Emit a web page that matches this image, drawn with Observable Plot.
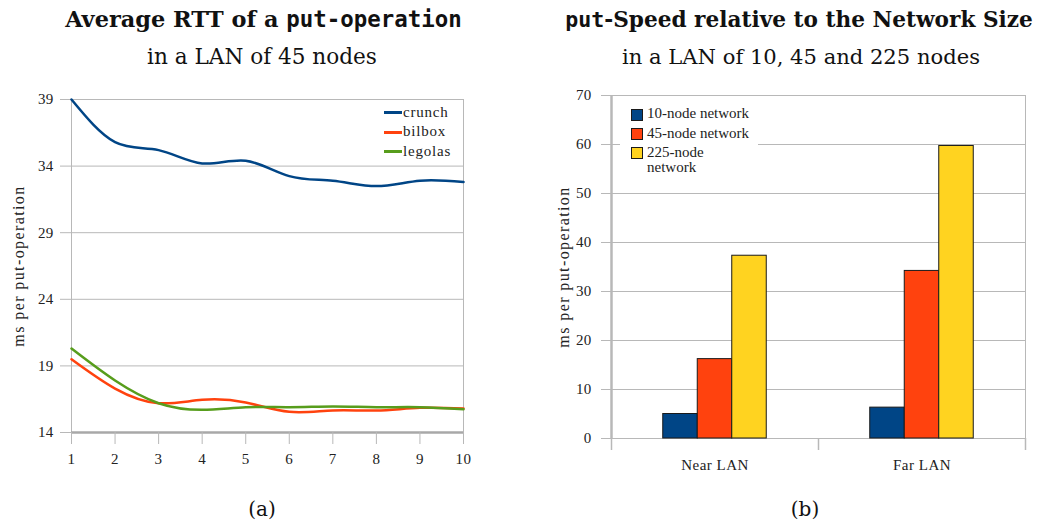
<!DOCTYPE html>
<html><head><meta charset="utf-8">
<script src="https://cdn.jsdelivr.net/npm/d3@7"></script>
<script src="https://cdn.jsdelivr.net/npm/@observablehq/plot@0.6"></script>
<style>
body{margin:0;background:#fff;}
#root{position:relative;width:1049px;height:524px;overflow:hidden;background:#fff;}
.abs{position:absolute;white-space:nowrap;line-height:1;}
.ttl{font-family:"DejaVu Serif",serif;font-weight:bold;color:#111;}
.mono{font-family:"DejaVu Sans Mono","Liberation Mono",monospace;font-weight:bold;}
.sub{font-family:"DejaVu Serif",serif;color:#111;}
.leg{position:absolute;font-family:"Liberation Serif",serif;font-size:15px;line-height:15px;color:#222;}
g[aria-label="y-axis label"] text{font-size:16px;letter-spacing:1.4px;}
g[aria-label="y-axis tick label"] text{font-size:15px;letter-spacing:0.3px;}
g[aria-label="x-axis tick label"] text{font-size:15px;letter-spacing:0.5px;}
</style></head><body><div id="root"></div>
<script>
// ---- panel (a): average RTT of a put-operation, LAN of 45 nodes ----
const nodes = [1, 2, 3, 4, 5, 6, 7, 8, 9, 10];
const crunch = [39.0, 35.8, 35.2, 34.2, 34.4, 33.25, 32.9, 32.5, 32.9, 32.8];
const bilbox = [19.5, 17.3, 16.2, 16.45, 16.25, 15.55, 15.65, 15.65, 15.85, 15.8];
const legolas = [20.3, 17.9, 16.2, 15.7, 15.9, 15.9, 15.95, 15.9, 15.9, 15.75];
const hosts = ["crunch", "bilbox", "legolas"];
const hostColors = ["#004586", "#ff420e", "#579d1c"];
const rttTicks = [14, 19, 24, 29, 34, 39];

// ---- panel (b): put-speed relative to network size ----
const lans = ["Near LAN", "Far LAN"];
const networks = ["10-node network", "45-node network", "225-node network"];
const net10 = [5.0, 6.3];
const net45 = [16.2, 34.2];
const net225 = [37.3, 59.7];
const netColors = ["#004586", "#ff420e", "#ffd320"];
const speedTicks = [0, 10, 20, 30, 40, 50, 60, 70];

const root = document.getElementById("root");
const grid = "#b8b8b8";
const baseStyle = {fontFamily: "Liberation Serif, serif", fontSize: "14px", color: "#222", background: "transparent", overflow: "visible"};

const rtt = [];
[crunch, bilbox, legolas].forEach((arr, i) => arr.forEach((v, j) => rtt.push({host: hosts[i], n: nodes[j], ms: v})));

const left = Plot.plot({
  width: 480, height: 400, marginLeft: 71, marginRight: 17, marginTop: 14, marginBottom: 53,
  style: baseStyle,
  x: {domain: [1, 10]},
  y: {domain: [14, 39]},
  color: {domain: hosts, range: hostColors},
  marks: [
    Plot.gridY(rttTicks, {stroke: grid, strokeOpacity: 1}),
    Plot.frame({stroke: grid}),
    Plot.ruleY([14], {stroke: "#a8a8a8", strokeWidth: 2.5}),
    Plot.axisY(rttTicks, {tickSize: 11, tickPadding: 7, stroke: grid, label: "ms per put-operation", labelAnchor: "center", labelArrow: "none", labelOffset: 59}),
    Plot.axisX(nodes, {tickSize: 12, tickPadding: 9, stroke: grid, label: null}),
    Plot.line(rtt, {x: "n", y: "ms", stroke: "host", z: "host", strokeWidth: 2.5, curve: "natural"})
  ]
});
left.style.position = "absolute"; left.style.left = "0px"; left.style.top = "85px";
root.appendChild(left);

const speed = [];
lans.forEach((lan, i) => [net10, net45, net225].forEach((arr, k) => speed.push({lan, li: i, net: networks[k], k, ms: arr[i]})));

const right = Plot.plot({
  width: 529, height: 400, marginLeft: 91, marginRight: 24, marginTop: 10, marginBottom: 47,
  style: baseStyle,
  x: {domain: [-0.5, 1.5]},
  y: {domain: [0, 70]},
  color: {domain: networks, range: netColors},
  marks: [
    Plot.gridY(speedTicks, {stroke: grid, strokeOpacity: 1}),
    Plot.frame({stroke: grid}),
    Plot.ruleX([-0.5], {stroke: grid, strokeWidth: 2.5}),
    Plot.axisY(speedTicks, {tickSize: 10, tickPadding: 10, stroke: grid, label: "ms per put-operation", labelAnchor: "center", labelArrow: "none", labelOffset: 54}),
    Plot.axisX([-0.5, 0.5, 1.5], {tickSize: 12, stroke: grid, strokeWidth: 1.5, tickFormat: () => "", label: null}),
    Plot.axisX([0, 1], {tickSize: 0, tickPadding: 21, tickFormat: i => lans[i], label: null}),
    Plot.rectY(speed, {x1: d => d.li - 0.25 + d.k / 6, x2: d => d.li - 0.25 + (d.k + 1) / 6, y: "ms", fill: "net", stroke: "#1a1a1a", strokeWidth: 1})
  ]
});
right.style.position = "absolute"; right.style.left = "520px"; right.style.top = "85px";
root.appendChild(right);

// ---- titles, subtitles, captions ----
function place(html, cls, cx, baseline, targetW, baseSize) {
  const el = document.createElement("div");
  el.className = "abs " + cls;
  el.innerHTML = html;
  el.style.fontSize = baseSize + "px";
  root.appendChild(el);
  let w = el.getBoundingClientRect().width;
  const fs = targetW ? baseSize * targetW / w : baseSize;
  el.style.fontSize = fs + "px";
  w = el.getBoundingClientRect().width;
  el.style.left = (cx - w / 2) + "px";
  el.style.top = (baseline - 0.84 * fs) + "px";
}
place('Average RTT of a <span class="mono">put-operation</span>', "ttl", 263.5, 27, 397, 20);
place('in a LAN of 45 nodes', "sub", 262, 64, 230, 20);
place('<span class="mono">put</span>-Speed relative to the Network Size', "ttl", 799, 27, 468, 20);
place('in a LAN of 10, 45 and 225 nodes', "sub", 801, 64, 358, 20);
place('(a)', "sub", 262, 516, null, 20);
place('(b)', "sub", 805, 516, null, 20);

// ---- legend (a): inside plot, top right ----
const legA = [112.7, 132.3, 151.7];
hosts.forEach((h, i) => {
  const ln = document.createElement("div");
  ln.style.cssText = `position:absolute;left:384px;top:${legA[i] - 1.25}px;width:18px;height:2.5px;background:${hostColors[i]};`;
  root.appendChild(ln);
  const t = document.createElement("div");
  t.className = "leg";
  t.style.left = "403px"; t.style.top = (legA[i] - 8) + "px";
  t.style.letterSpacing = "0.8px";
  t.textContent = h;
  root.appendChild(t);
});

// ---- legend (b): inside plot, top left, white box ----
const box = document.createElement("div");
box.style.cssText = "position:absolute;left:620px;top:101px;width:138px;height:78px;background:#fff;";
root.appendChild(box);
const legB = [114.3, 133.7, 152.7];
networks.forEach((n, i) => {
  const sw = document.createElement("div");
  sw.style.cssText = `position:absolute;left:631px;top:${legB[i] - 5.5}px;width:10px;height:10px;background:${netColors[i]};border:1px solid #1a1a1a;`;
  root.appendChild(sw);
  const t = document.createElement("div");
  t.className = "leg";
  t.style.left = "647px"; t.style.top = (legB[i] - 8) + "px";
  t.style.width = "105px"; t.style.whiteSpace = "normal";
  t.textContent = n;
  root.appendChild(t);
});
</script></body></html>
